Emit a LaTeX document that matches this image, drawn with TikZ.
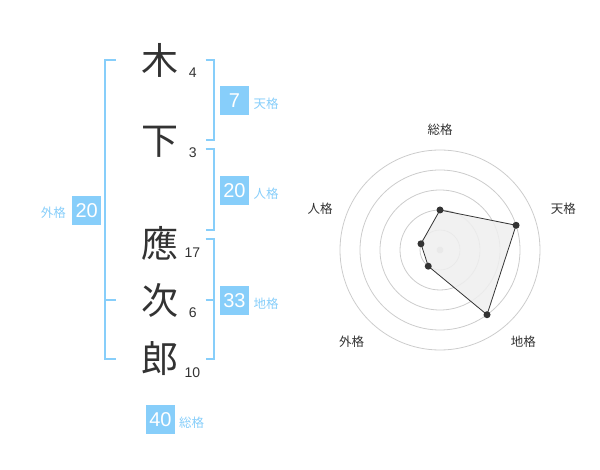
\documentclass[tikz,border=0pt]{standalone}
\usepackage{fontspec}
\setmainfont{Liberation Sans}
\newfontfamily\jp{Noto Sans CJK JP}
\definecolor{kaku}{HTML}{87CEFA}
\definecolor{ink}{HTML}{333333}
\definecolor{ring}{HTML}{CCCCCC}
\definecolor{area}{HTML}{EFEFEF}
\begin{document}
\begin{tikzpicture}[x=1pt,y=-1pt]
      \useasboundingbox (0,0) rectangle (600,470);

      \begin{scope}[every node/.style={text=ink,inner sep=0pt,font=\jp\fontsize{37}{37}\selectfont}]
        \node (k1) at (160,60)  {木};
        \node (k2) at (160,142) {下};
        \node (k3) at (160,243) {應};
        \node (k4) at (160,300) {次};
        \node (k5) at (160,359) {郎};
      \end{scope}

      \begin{scope}[every node/.style={text=ink,inner sep=0pt,font=\fontsize{14}{14}\selectfont}]
        \node (n1) at (192.7,72.7)  {4};
        \node (n2) at (192.7,152.7) {3};
        \node (n3) at (192.3,252.7) {17};
        \node (n4) at (192.7,312.7) {6};
        \node (n5) at (192.3,372.7) {10};
      \end{scope}

      \begin{scope}[kaku, line width=2pt]
        \coordinate (ga) at (105,60);
        \coordinate (gb) at (105,359.3);
        \draw ([xshift=10.7pt]ga) -- (ga) -- (gb) -- ([xshift=10.7pt]gb);
        \draw (105,300) -- (115.7,300);
        \coordinate (ta) at (214.3,60);
        \coordinate (tb) at (214.3,140);
        \draw ([xshift=-8.6pt]ta) -- (ta) -- (tb) -- ([xshift=-8.6pt]tb);
        \coordinate (ja) at (214.3,149.3);
        \coordinate (jb) at (214.3,230);
        \draw ([xshift=-8.6pt]ja) -- (ja) -- (jb) -- ([xshift=-8.6pt]jb);
        \coordinate (ca) at (214.3,239.3);
        \coordinate (cb) at (214.3,359.3);
        \draw ([xshift=-8.6pt]ca) -- (ca) -- (cb) -- ([xshift=-8.6pt]cb);
        \draw (205.7,300) -- (214.3,300);
      \end{scope}

      \begin{scope}[every node/.style={fill=kaku,text=white,inner sep=0pt,minimum size=29pt,font=\fontsize{20}{20}\selectfont}]
        \node (ten)  at (234.5,100.5) {7};
        \node (jin)  at (234.5,190.5) {20};
        \node (gai)  at (86.7,210.5)  {20};
        \node (chi)  at (234.5,300.5) {33};
        \node (sou)  at (160.5,419.5) {40};
      \end{scope}

      \begin{scope}[every node/.style={text=kaku,inner sep=0pt,font=\jp\fontsize{12.5}{12.5}\selectfont}]
        \node (lten) at (266,104)   {天格};
        \node (ljin) at (266,194)   {人格};
        \node (lgai) at (53.3,213)  {外格};
        \node (lchi) at (266,304)   {地格};
        \node (lsou) at (191.7,423) {総格};
      \end{scope}

      \begin{scope}[shift={(440,250)},y=1pt]
        \foreach \r in {20,40,60,80,100}
          \draw[ring, line width=0.8pt] (0,0) circle[radius=\r pt];
        \fill[ring] (0,0) circle[radius=3.5pt];
        \coordinate (p1) at (90:40);
        \coordinate (p2) at (18:80);
        \coordinate (p3) at (-54:80);
        \coordinate (p4) at (-126:20);
        \coordinate (p5) at (162:20);
        \filldraw[fill=area, fill opacity=0.85, draw=ink, line width=0.8pt]
          (p1) -- (p2) -- (p3) -- (p4) -- (p5) -- cycle;
        \foreach \p in {p1,p2,p3,p4,p5}
          \fill[ink] (\p) circle[radius=3.5pt];
      \end{scope}

      \begin{scope}[every node/.style={text=ink,inner sep=0pt,font=\jp\fontsize{12.5}{12.5}\selectfont}]
        \node (rsou) at (440,130)     {総格};
        \node (rten) at (563.3,208.3) {天格};
        \node (rchi) at (523.3,341.7) {地格};
        \node (rgai) at (351.7,341.7) {外格};
        \node (rjin) at (320,208.3)   {人格};
      \end{scope}

    \end{tikzpicture}
\end{document}
